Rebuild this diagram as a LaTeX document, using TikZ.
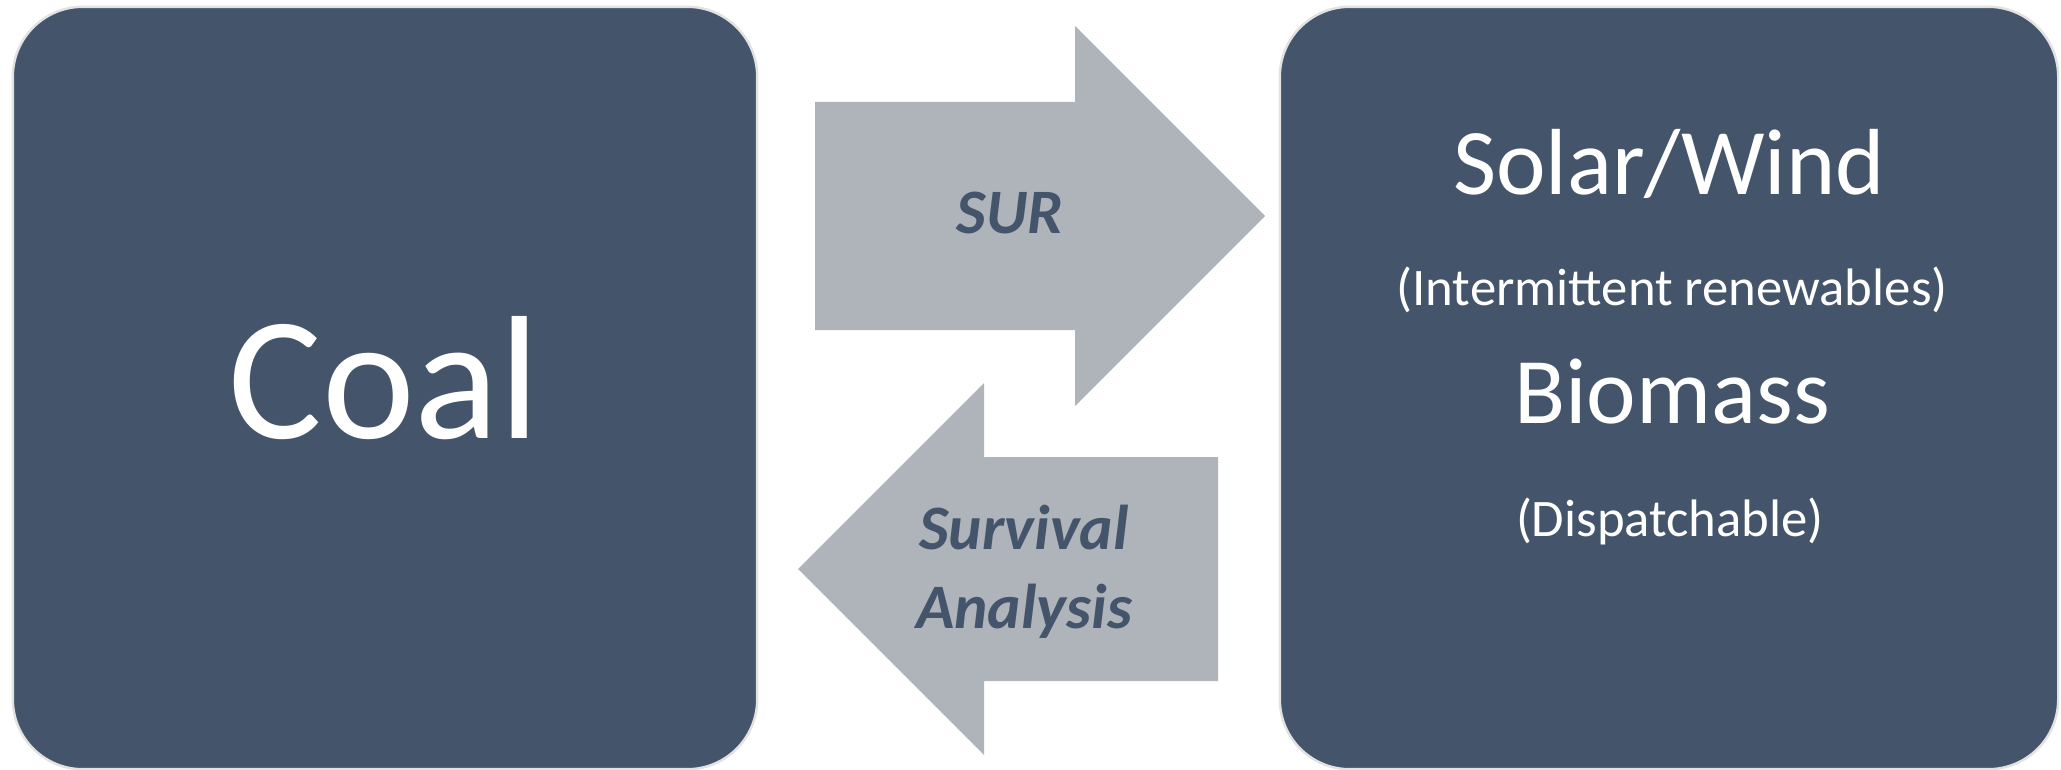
\documentclass[tikz,border=0pt]{standalone}
\usepackage{fontspec}
\setmainfont{Carlito}
\usetikzlibrary{positioning}
\definecolor{slatebox}{HTML}{44546A}
\definecolor{slateedge}{HTML}{E2E2E2}
\definecolor{arrowgray}{HTML}{AFB3BA}
\newcommand{\bigsize}{\fontsize{50}{60}\selectfont}
\newcommand{\midsize}{\fontsize{26.7}{32}\selectfont}
\newcommand{\notesize}{\fontsize{15}{18}\selectfont}
\newcommand{\arrowsize}{\fontsize{18}{22.5}\selectfont}

\begin{document}
\begin{tikzpicture}[
  x=0.01cm,y=-0.01cm,
  panel/.style={draw=slateedge, fill=slatebox, line width=.7pt, rounded corners=0.7cm, inner sep=0pt},
  paneltext/.style={text=white, inner sep=0pt, anchor=base},
  arrowbody/.style={fill=arrowgray},
  arrowtext/.style={text=slatebox, font=\arrowsize\bfseries\itshape, align=center, inner sep=0pt},
]
\useasboundingbox (0,0) rectangle (2061,770);

% the two sides
\node[panel, minimum width=7.44cm, minimum height=7.62cm] (coalbox) at (385,388) {};
\node[panel, minimum width=7.78cm, minimum height=7.62cm] (renbox) at (1669,388) {};

\node[paneltext, font=\bigsize] (coal) at (384,438) {Coal};

\node[paneltext, font=\midsize] (solar) at (1669,195) {Solar/Wind};
\node[paneltext, font=\notesize] (solarnote) at (1672,305) {(Intermittent renewables)};
\node[paneltext, font=\midsize] (biomass) at (1672,423) {Biomass};
\node[paneltext, font=\notesize] (biomassnote) at (1670,536) {(Dispatchable)};

% block arrows between them
\fill[arrowbody] (815,102) -- (1075,102) -- (1075,26) -- (1265,216)
  -- (1075,406) -- (1075,330) -- (815,330) -- cycle;
\fill[arrowbody] (1218,457) -- (984,457) -- (984,383) -- (798,569)
  -- (984,755) -- (984,681) -- (1218,681) -- cycle;

\node[arrowtext, anchor=base] (sur) at (1010,233) {SUR};
\node[arrowtext] (survival) at (1024,572) {Survival\\Analysis};
\end{tikzpicture}
\end{document}
